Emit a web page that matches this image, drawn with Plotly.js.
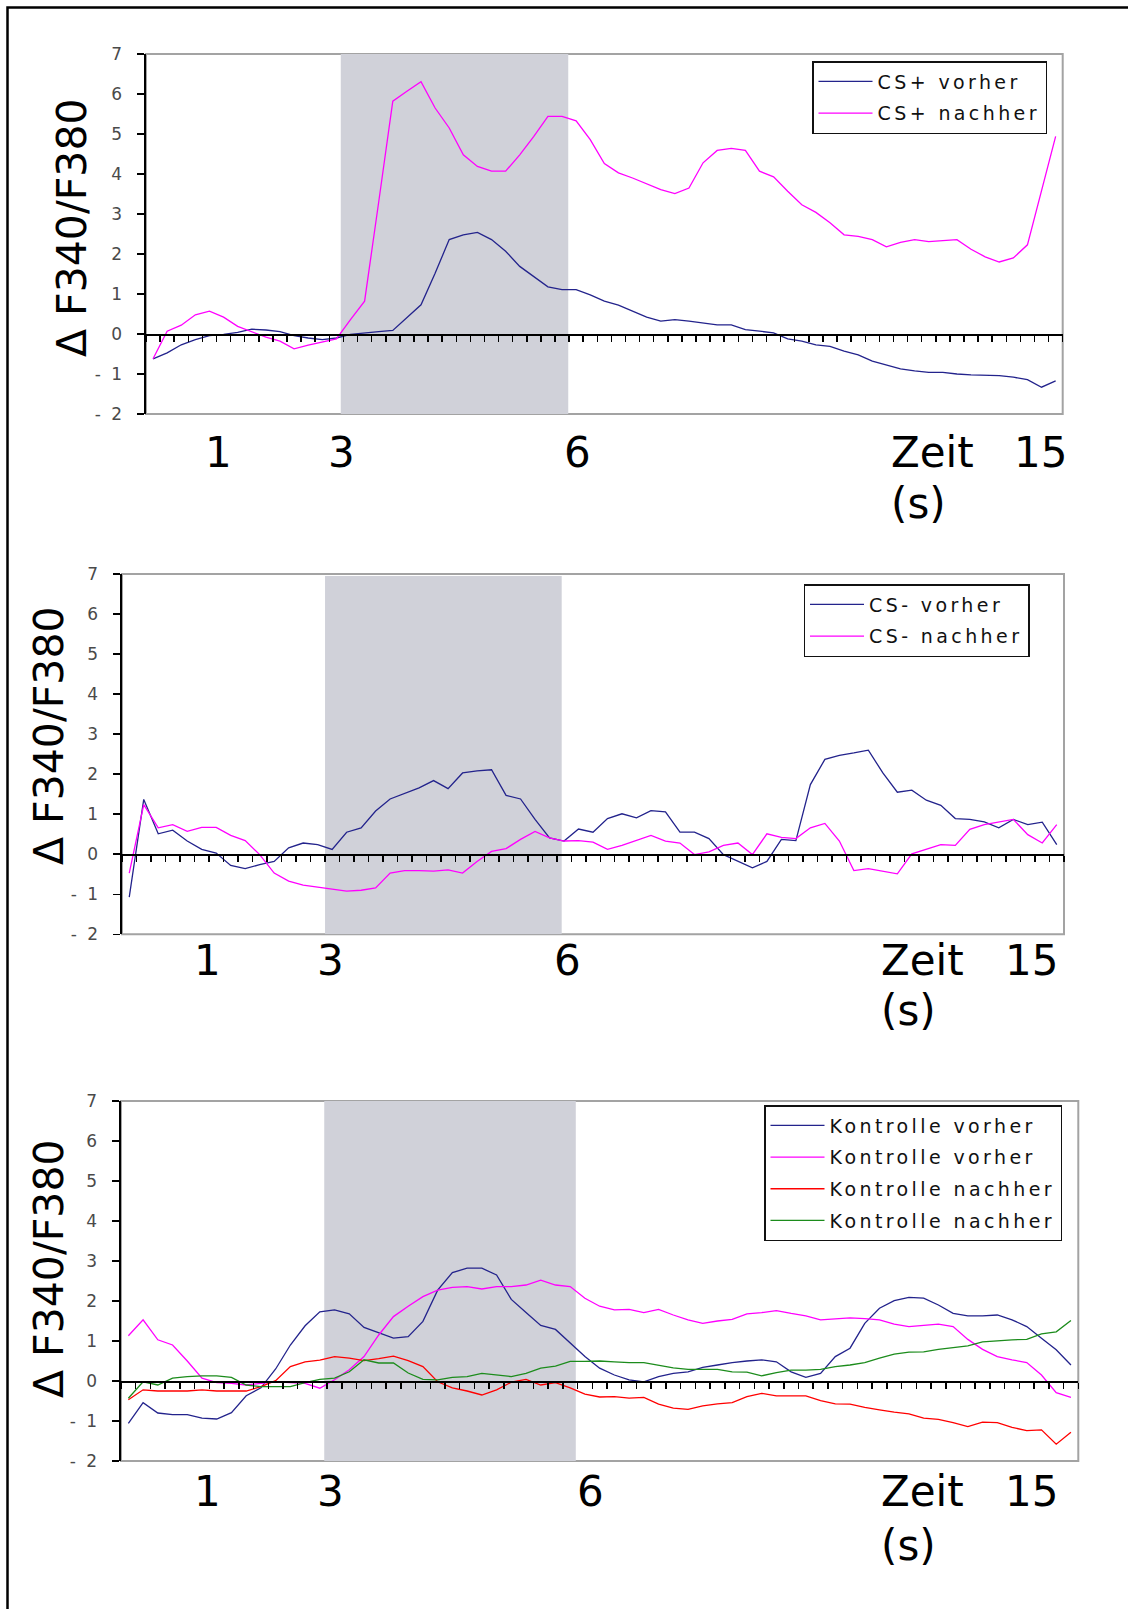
<!DOCTYPE html>
<html>
<head>
<meta charset="utf-8">
<script src="https://cdn.plot.ly/plotly-3.0.1.min.js"></script>
<style>
  html, body { margin: 0; padding: 0; background: #fff; }
  #chart { width: 1128px; height: 1609px; }
  text.legendtext, text.legend2text, text.legend3text { letter-spacing: 3.4px; }
  .ytick text, .y2tick text, .y3tick text { letter-spacing: 2.5px; }
</style>
</head>
<body>
<div id="chart"></div>
<script>
// ---------- DATA ----------
const frames = [1,2,3,4,5,6,7,8,9,10,11,12,13,14,15,16,17,18,19,20,21,22,23,24,25,26,27,28,29,30,
  31,32,33,34,35,36,37,38,39,40,41,42,43,44,45,46,47,48,49,50,51,52,53,54,55,56,57,58,59,60,61,62,63,64,65];

// Panel 1: CS+
const csPlusVorher = [-0.62,-0.47,-0.27,-0.14,-0.04,-0.01,0.04,0.12,0.10,0.06,-0.04,-0.10,-0.14,-0.10,-0.01,
  0.03,0.06,0.09,0.40,0.73,1.52,2.36,2.48,2.54,2.36,2.07,1.69,1.43,1.18,1.11,1.11,0.98,
  0.82,0.72,0.57,0.42,0.32,0.36,0.32,0.28,0.23,0.23,0.11,0.07,0.03,-0.12,-0.18,-0.27,-0.31,-0.43,
  -0.52,-0.68,-0.77,-0.87,-0.92,-0.96,-0.96,-1.00,-1.02,-1.03,-1.04,-1.08,-1.14,-1.33,-1.17];
const csPlusNachher = [-0.62,0.07,0.22,0.48,0.57,0.42,0.19,0.05,-0.08,-0.18,-0.37,-0.28,-0.20,-0.12,0.36,
  0.82,3.30,5.82,6.07,6.31,5.65,5.15,4.48,4.19,4.07,4.07,4.48,4.94,5.44,5.44,5.33,4.86,
  4.26,4.03,3.90,3.76,3.61,3.51,3.65,4.28,4.59,4.64,4.59,4.07,3.93,3.57,3.23,3.04,2.78,2.48,
  2.44,2.36,2.18,2.29,2.36,2.31,2.34,2.36,2.12,1.93,1.80,1.90,2.23,3.61,4.94];

// Panel 2: CS-
const csMinusVorher = [-1.07,1.37,0.51,0.60,0.33,0.12,0.03,-0.28,-0.36,-0.26,-0.18,0.16,0.28,0.24,0.12,
  0.55,0.66,1.08,1.38,1.53,1.66,1.84,1.64,2.03,2.08,2.11,1.47,1.38,0.87,0.41,0.33,0.63,
  0.55,0.89,1.01,0.91,1.09,1.06,0.55,0.55,0.39,-0.01,-0.18,-0.34,-0.18,0.37,0.34,1.74,2.37,2.47,
  2.53,2.60,2.03,1.55,1.60,1.35,1.22,0.89,0.87,0.81,0.66,0.87,0.74,0.80,0.24];
const csMinusNachher = [-0.47,1.24,0.66,0.74,0.57,0.67,0.67,0.47,0.34,-0.01,-0.47,-0.67,-0.77,-0.82,-0.86,
  -0.92,-0.90,-0.84,-0.47,-0.41,-0.41,-0.42,-0.39,-0.47,-0.18,0.07,0.14,0.37,0.57,0.41,0.33,0.34,
  0.30,0.12,0.22,0.35,0.47,0.33,0.28,-0.01,0.06,0.22,0.28,-0.01,0.51,0.42,0.39,0.66,0.77,0.33,
  -0.41,-0.36,-0.42,-0.49,0.01,0.12,0.24,0.22,0.62,0.74,0.81,0.87,0.49,0.28,0.74];

// Panel 3: Kontrolle
const kontrolleVorher1 = [-1.06,-0.54,-0.80,-0.84,-0.84,-0.93,-0.95,-0.79,-0.37,-0.17,0.30,0.90,1.38,1.73,1.78,
  1.68,1.34,1.21,1.07,1.11,1.49,2.27,2.71,2.82,2.82,2.65,2.04,1.71,1.39,1.29,0.94,0.61,0.32,
  0.15,0.03,-0.02,0.11,0.19,0.23,0.34,0.40,0.46,0.50,0.53,0.48,0.23,0.09,0.19,0.61,0.82,
  1.44,1.82,2.01,2.09,2.07,1.90,1.69,1.63,1.63,1.65,1.53,1.36,1.07,0.78,0.40];
const kontrolleVorher2 = [1.13,1.53,1.03,0.90,0.50,0.07,-0.04,-0.06,-0.10,-0.06,-0.02,-0.04,-0.06,-0.18,0.03,
  0.28,0.61,1.15,1.61,1.87,2.11,2.27,2.34,2.36,2.30,2.36,2.36,2.40,2.52,2.40,2.36,2.07,1.87,
  1.78,1.79,1.71,1.79,1.65,1.53,1.44,1.50,1.54,1.68,1.71,1.76,1.69,1.63,1.53,1.55,1.58,
  1.56,1.53,1.42,1.36,1.39,1.42,1.36,1.04,0.79,0.61,0.53,0.46,0.15,-0.29,-0.41];
const kontrolleNachher1 = [-0.47,-0.22,-0.25,-0.25,-0.25,-0.22,-0.25,-0.25,-0.25,-0.14,0.01,0.36,0.48,0.52,0.61,
  0.57,0.51,0.56,0.62,0.51,0.36,-0.02,-0.17,-0.25,-0.35,-0.22,-0.03,0.04,-0.10,-0.04,-0.17,-0.33,-0.40,
  -0.39,-0.43,-0.41,-0.58,-0.68,-0.71,-0.62,-0.57,-0.54,-0.39,-0.31,-0.37,-0.37,-0.37,-0.49,-0.57,-0.58,
  -0.66,-0.72,-0.78,-0.82,-0.93,-0.96,-1.04,-1.14,-1.03,-1.04,-1.16,-1.24,-1.22,-1.58,-1.28];
const kontrolleNachher2 = [-0.43,-0.02,-0.10,0.07,0.11,0.13,0.13,0.09,-0.10,-0.14,-0.14,-0.14,-0.04,0.04,0.07,
  0.23,0.53,0.45,0.45,0.20,0.04,0.03,0.09,0.11,0.19,0.15,0.11,0.19,0.32,0.37,0.49,0.49,0.50,
  0.48,0.46,0.46,0.40,0.33,0.29,0.29,0.29,0.23,0.22,0.13,0.21,0.27,0.27,0.29,0.36,0.40,
  0.46,0.57,0.67,0.72,0.73,0.79,0.84,0.88,0.98,1.01,1.03,1.04,1.18,1.23,1.51];

// stimulus window (shaded), in frame units, per panel
const stimStart = [14.31, 14.51, 14.30];
const stimEnd   = [30.44, 30.84, 31.38];
const stimTop   = [7, 6.95, 7];

const yTickVals = [-2,-1,0,1,2,3,4,5,6,7];
const yTickText = ['- 2','- 1','0','1','2','3','4','5','6','7'];
const timeLabels = ['1','3','6','15'];
const yTitle = 'Δ F340/F380';

// ---------- LAYOUT HELPERS ----------
const W = 1128, H = 1609;
const px = x => x / W;
const py = y => 1 - y / H;

// panel boxes (pixels): left, right, top, bottom
const boxes = [
  {l:146, r:1062.7, t:54,  b:414},
  {l:122, r:1064,   t:574, b:934.3},
  {l:121, r:1078.3, t:1101,b:1461}
];
// big labels positions (pixels)
const labelPos = [
  {xs:[218.6, 341.8, 577.9, 1040.8], y:452, zeitX:889, sY:503, ytx:72, yty:228},
  {xs:[207.3, 330.5, 567.6, 1031.5], y:960, zeitX:879, sY:1011, ytx:49, yty:736},
  {xs:[207.3, 330.5, 590.2, 1031.5], y:1491, zeitX:879, sY:1545, ytx:49, yty:1269}
];
const legendPos = [
  {x:812, y:61},
  {x:803.5, y:584},
  {x:764, y:1105}
];

const blue = '#23238c', magenta = '#ff00ff', red = '#ff0000', green = '#1c8c1c';
const lw = 1.3;

const traces = [
  {x:frames, y:csPlusVorher, name:'CS+ vorher', line:{color:blue,width:lw}, xaxis:'x', yaxis:'y', legend:'legend', legendgroup:'a'},
  {x:frames, y:csPlusNachher, name:'CS+ nachher', line:{color:magenta,width:lw}, xaxis:'x', yaxis:'y', legend:'legend', legendgroup:'b'},
  {x:frames, y:csMinusVorher, name:'CS- vorher', line:{color:blue,width:lw}, xaxis:'x2', yaxis:'y2', legend:'legend2', legendgroup:'c'},
  {x:frames, y:csMinusNachher, name:'CS- nachher', line:{color:magenta,width:lw}, xaxis:'x2', yaxis:'y2', legend:'legend2', legendgroup:'d'},
  {x:frames, y:kontrolleVorher1, name:'Kontrolle vorher', line:{color:blue,width:lw}, xaxis:'x3', yaxis:'y3', legend:'legend3', legendgroup:'e'},
  {x:frames, y:kontrolleVorher2, name:'Kontrolle vorher', line:{color:magenta,width:lw}, xaxis:'x3', yaxis:'y3', legend:'legend3', legendgroup:'f'},
  {x:frames, y:kontrolleNachher1, name:'Kontrolle nachher', line:{color:red,width:lw}, xaxis:'x3', yaxis:'y3', legend:'legend3', legendgroup:'g'},
  {x:frames, y:kontrolleNachher2, name:'Kontrolle nachher', line:{color:green,width:lw}, xaxis:'x3', yaxis:'y3', legend:'legend3', legendgroup:'h'}
].map(t => Object.assign({type:'scatter', mode:'lines', hoverinfo:'skip'}, t));

const layout = {
  width: W, height: H,
  margin: {l:0, r:0, t:0, b:0, pad:0},
  paper_bgcolor: '#ffffff',
  plot_bgcolor: '#ffffff',
  font: {family: 'DejaVu Sans, Verdana, sans-serif', color: '#000'},
  showlegend: true,
  shapes: [],
  annotations: []
};

const legendFont = {family:'DejaVu Sans, Verdana, sans-serif', size:19, color:'#111'};

boxes.forEach((b, i) => {
  const k = i === 0 ? '' : String(i + 1);
  const xd = [px(b.l), px(b.r)];
  const yd = [py(b.b), py(b.t)];
  const zeroPaper = yd[0] + (0 - (-2)) / 9 * (yd[1] - yd[0]);
  layout['xaxis' + k] = {
    domain: xd, range: [0.5, 65.5], anchor: 'free', position: zeroPaper,
    showline: true, linecolor: '#000', linewidth: 1.5,
    ticks: 'outside', ticklen: 6, tickwidth: 1.5, tickcolor: '#000',
    tick0: 0.5, dtick: 1, showticklabels: false,
    showgrid: false, zeroline: false, fixedrange: true
  };
  layout['yaxis' + k] = {
    domain: yd, range: [-2, 7], anchor: 'x' + k,
    showline: true, linecolor: '#000', linewidth: 2,
    ticks: 'outside', ticklen: 7, tickwidth: 1.5, tickcolor: '#000',
    tickmode: 'array', tickvals: yTickVals, ticktext: yTickText,
    tickfont: {family:'DejaVu Sans, Verdana, sans-serif', size:17, color:'#4a4a4a'},
    ticklabelstandoff: 9,
    showgrid: false, zeroline: false, fixedrange: true
  };
  // stimulus shade
  layout.shapes.push({
    type:'rect', layer:'below', xref:'x' + k, yref:'y' + k,
    x0: stimStart[i], x1: stimEnd[i], y0: -2, y1: stimTop[i],
    fillcolor:'#d0d1d9', line:{width:0}
  });
  // plot-area frame (gray)
  layout.shapes.push({
    type:'rect', layer:'below', xref:'x' + k + ' domain', yref:'y' + k + ' domain',
    x0:0, x1:1, y0:0, y1:1, fillcolor:'rgba(0,0,0,0)', line:{color:'#a3a3a3', width:2}
  });
  // legend
  const lp = legendPos[i];
  layout[i === 0 ? 'legend' : 'legend' + (i + 1)] = {
    x: px(lp.x), y: py(lp.y), xanchor:'left', yanchor:'top',
    xref:'paper', yref:'paper',
    bgcolor:'#ffffff', bordercolor:'#111', borderwidth:1.5,
    font: legendFont, tracegroupgap: 4, itemwidth: 54,
    traceorder: 'grouped'
  };
  // labels
  const L = labelPos[i];
  const big = {family:'DejaVu Sans, Verdana, sans-serif', size:42, color:'#000'};
  timeLabels.forEach((t, j) => {
    layout.annotations.push({
      text: t, xref:'paper', yref:'paper', x: px(L.xs[j]), y: py(L.y),
      xanchor:'center', yanchor:'middle', showarrow:false, font: big
    });
  });
  layout.annotations.push({
    text:'Zeit', xref:'paper', yref:'paper', x: px(L.zeitX), y: py(L.y),
    xanchor:'left', yanchor:'middle', showarrow:false, font: big
  });
  layout.annotations.push({
    text:'(s)', xref:'paper', yref:'paper', x: px(L.zeitX), y: py(L.sY),
    xanchor:'left', yanchor:'middle', showarrow:false, font: big
  });
  layout.annotations.push({
    text: yTitle, xref:'paper', yref:'paper', x: px(L.ytx), y: py(L.yty),
    xanchor:'center', yanchor:'middle', textangle:-90, showarrow:false,
    font: {family:'DejaVu Sans, Verdana, sans-serif', size:41, color:'#000'}
  });
});

// outer frame (left and top edges visible)
layout.shapes.push({
  type:'rect', xref:'paper', yref:'paper',
  x0: px(7.5), x1: 1.05, y0: -0.05, y1: py(7.5),
  fillcolor:'rgba(0,0,0,0)', line:{color:'#000', width:2.5}
});

Plotly.newPlot('chart', traces, layout, {displayModeBar:false, staticPlot:true});
</script>
</body>
</html>
